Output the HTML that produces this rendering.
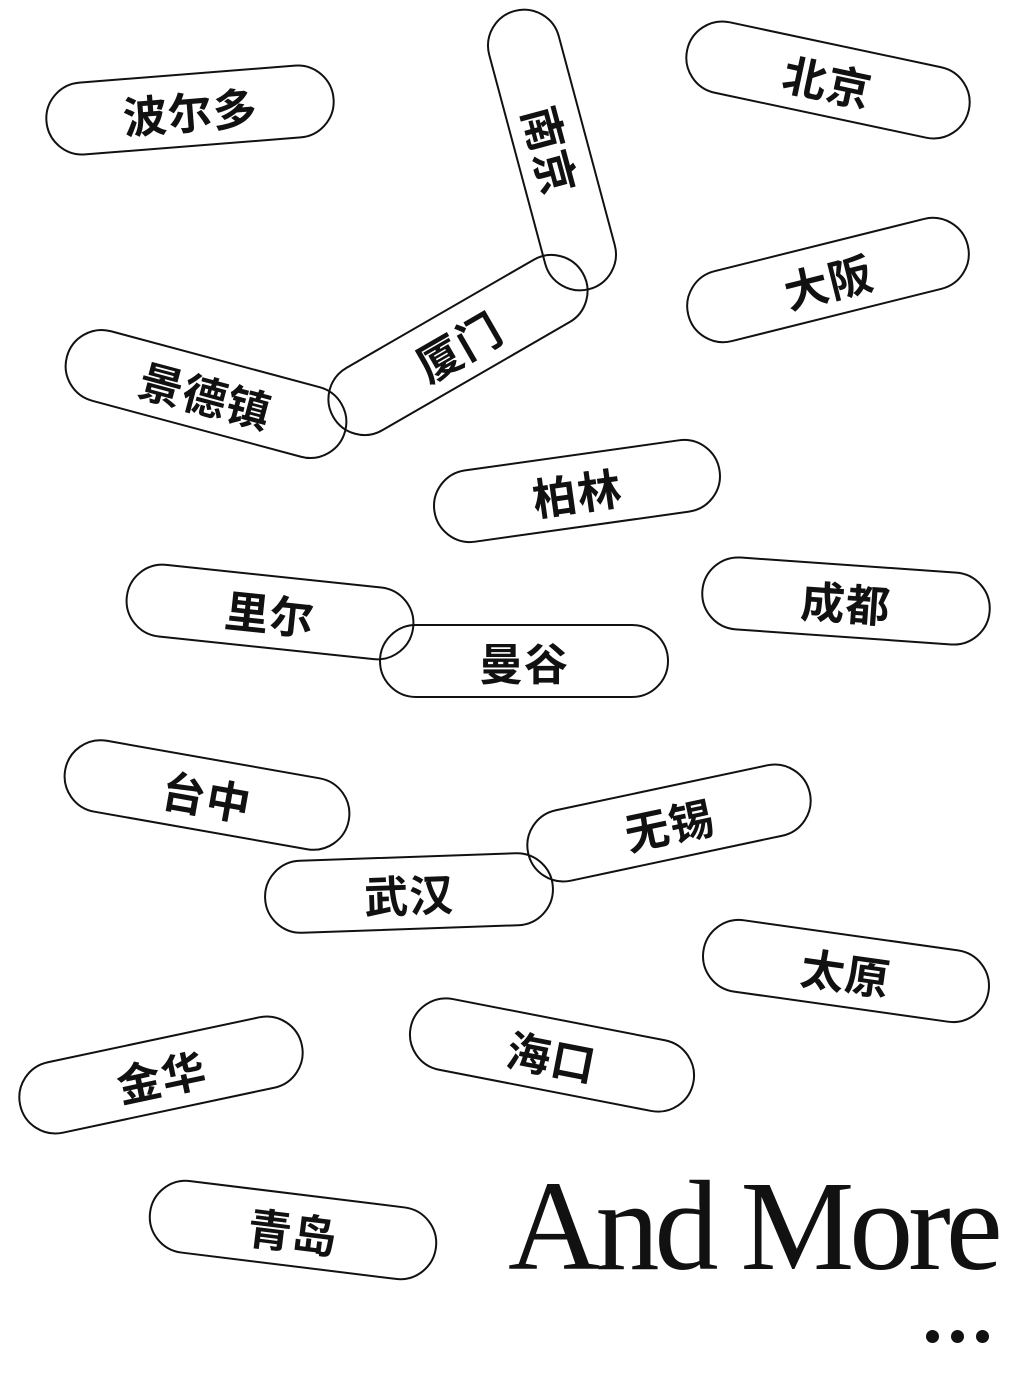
<!DOCTYPE html>
<html><head><meta charset="utf-8"><style>
html,body{margin:0;padding:0;background:#fff;}
body{width:1024px;height:1380px;position:relative;overflow:hidden;}
.p{position:absolute;width:286px;height:70px;margin-left:-145px;margin-top:-37px;border:2px solid #111;border-radius:37px;box-sizing:content-box;display:flex;align-items:center;justify-content:center;font-family:"Liberation Sans","Noto Sans CJK SC",sans-serif;font-weight:bold;font-size:44px;color:#111;letter-spacing:1px;}
.am{position:absolute;left:508px;top:1162px;font-family:"Liberation Serif",serif;font-size:128px;letter-spacing:-5px;color:#111;line-height:1;white-space:nowrap;}
.d{position:absolute;width:13px;height:13px;border-radius:50%;background:#111;top:1330px;}
</style></head><body>
<div class="p" style="left:190px;top:110px;transform:rotate(-4.5deg)">波尔多</div>
<div class="p" style="left:552px;top:150px;transform:rotate(75deg)">南京</div>
<div class="p" style="left:828px;top:80px;transform:rotate(12deg)">北京</div>
<div class="p" style="left:828px;top:280px;transform:rotate(-14deg)">大阪</div>
<div class="p" style="left:458px;top:345px;transform:rotate(-30deg)">厦门</div>
<div class="p" style="left:206px;top:394px;transform:rotate(15deg)">景德镇</div>
<div class="p" style="left:577px;top:491px;transform:rotate(-8deg)">柏林</div>
<div class="p" style="left:270px;top:612px;transform:rotate(6deg)">里尔</div>
<div class="p" style="left:524px;top:661px;transform:rotate(0deg)">曼谷</div>
<div class="p" style="left:846px;top:601px;transform:rotate(4deg)">成都</div>
<div class="p" style="left:207px;top:795px;transform:rotate(10deg)">台中</div>
<div class="p" style="left:669px;top:823px;transform:rotate(-12deg)">无锡</div>
<div class="p" style="left:409px;top:893px;transform:rotate(-2deg)">武汉</div>
<div class="p" style="left:846px;top:971px;transform:rotate(8deg)">太原</div>
<div class="p" style="left:552px;top:1055px;transform:rotate(11deg)">海口</div>
<div class="p" style="left:161px;top:1075px;transform:rotate(-12deg)">金华</div>
<div class="p" style="left:293px;top:1230px;transform:rotate(7deg)">青岛</div>
<div class="am">And More</div>
<div class="d" style="left:926px"></div>
<div class="d" style="left:951px"></div>
<div class="d" style="left:976px"></div>
</body></html>
